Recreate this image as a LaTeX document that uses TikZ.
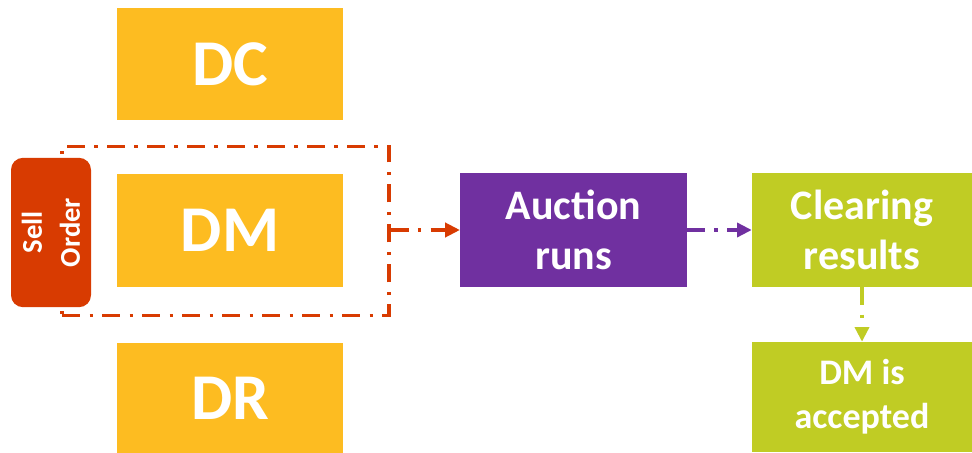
\documentclass[tikz,border=0pt]{standalone}
\usepackage{fontspec}
\setmainfont{Carlito}
\usetikzlibrary{arrows.meta}
\definecolor{dyellow}{HTML}{FDBC21}
\definecolor{sellred}{HTML}{D83B01}
\definecolor{auctpurple}{HTML}{7030A0}
\definecolor{clearlime}{HTML}{C0CC24}
\tikzset{
  box/.style={inner sep=0pt, text=white, font=\bfseries, align=center},
  dashdot/.style={line width=2.6pt, dash pattern=on 13.5pt off 7pt on 2.5pt off 7pt},
  flow/.style={dashdot, -{Triangle[length=11pt,width=10.5pt]}}
}
\begin{document}
\begin{tikzpicture}[x=0.75pt, y=-0.75pt]
            \useasboundingbox (0,0) rectangle (972,453);
            \node[box, fill=dyellow, minimum width=169.5pt, minimum height=84pt,
                  font=\bfseries\fontsize{49}{59}\selectfont] (dc) at (230, 64) {DC};
            \node[box, fill=dyellow, minimum width=169.5pt, minimum height=85pt,
                  font=\bfseries\fontsize{49}{59}\selectfont] (dm) at (230, 230.5) {DM};
            \node[box, fill=dyellow, minimum width=169.5pt, minimum height=82.5pt,
                  font=\bfseries\fontsize{49}{59}\selectfont] (dr) at (230, 398) {DR};

            \node[dashdot, draw=sellred, minimum width=245pt, minimum height=127pt] (group) at (225.5, 231) {};
            \node[box, fill=sellred, rounded corners=9pt, rotate=90, minimum width=112pt, minimum height=60pt,
                  font=\bfseries\fontsize{21.5}{28.5}\selectfont] (sell) at (51, 232.5) {Sell\\Order};

            \node[box, fill=auctpurple, minimum width=170pt, minimum height=85.5pt,
                  font=\bfseries\fontsize{31.5}{37.5}\selectfont] (auction) at (573.5, 230) {Auction\\runs};
            \node[box, fill=clearlime, minimum width=165pt, minimum height=85.5pt,
                  font=\bfseries\fontsize{31.5}{37.5}\selectfont] (clearing) at (862, 230) {Clearing\\results};
            \node[box, fill=clearlime, minimum width=165pt, minimum height=82.5pt,
                  font=\bfseries\fontsize{27}{33}\selectfont] (accepted) at (862, 397) {DM is\\accepted};

            \draw[flow, sellred] (group.east |- auction.west) -- (auction.west);
            \draw[flow, auctpurple] (auction) -- (clearing);
            \draw[flow, clearlime] (clearing) -- (accepted);
        \end{tikzpicture}
\end{document}
